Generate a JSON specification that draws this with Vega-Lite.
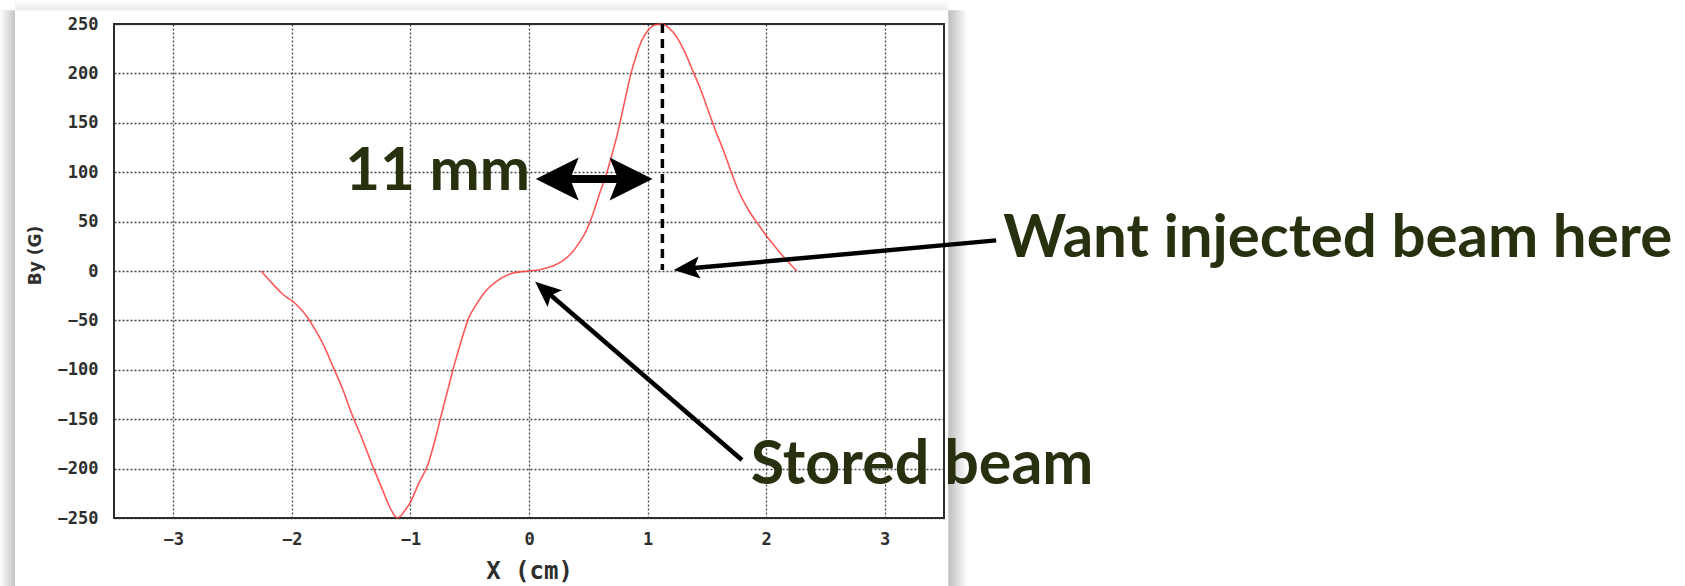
{
  "$schema": "https://vega.github.io/schema/vega-lite/v6.json",
  "width": 830,
  "height": 494,
  "autosize": "none",
  "padding": {"left": 114, "top": 24, "right": 741, "bottom": 68},
  "background": "white",
  "data": {"values": [{}]},
  "config": {
    "view": {"stroke": "#2b2b2b", "strokeWidth": 2},
    "axis": {
      "grid": true,
      "gridColor": "#333333",
      "gridDash": [2, 2],
      "gridWidth": 1.3,
      "gridOpacity": 0.9,
      "domain": false,
      "ticks": false,
      "tickSize": 0,
      "labelFont": "DejaVu Sans Mono",
      "labelFontWeight": "bold",
      "labelFontSize": 17,
      "labelColor": "#2e2e2e",
      "titleFontWeight": "bold",
      "titleColor": "#2e2e2e"
    }
  },
  "datasets": {
    "field": [
      {"x": -2.26, "by": 0}, {"x": -2.17, "by": -12}, {"x": -2.09, "by": -22},
      {"x": -2.04, "by": -27}, {"x": -2.0, "by": -30}, {"x": -1.93, "by": -38},
      {"x": -1.88, "by": -45}, {"x": -1.8, "by": -60}, {"x": -1.72, "by": -78},
      {"x": -1.66, "by": -95}, {"x": -1.57, "by": -120}, {"x": -1.49, "by": -146},
      {"x": -1.4, "by": -172}, {"x": -1.32, "by": -197}, {"x": -1.24, "by": -220},
      {"x": -1.17, "by": -240}, {"x": -1.11, "by": -250}, {"x": -1.05, "by": -243},
      {"x": -1.0, "by": -234}, {"x": -0.93, "by": -215}, {"x": -0.85, "by": -195},
      {"x": -0.79, "by": -170}, {"x": -0.74, "by": -146}, {"x": -0.68, "by": -118},
      {"x": -0.63, "by": -95}, {"x": -0.57, "by": -70}, {"x": -0.51, "by": -48},
      {"x": -0.44, "by": -33}, {"x": -0.37, "by": -21}, {"x": -0.28, "by": -11},
      {"x": -0.16, "by": -3}, {"x": -0.05, "by": -0.5}, {"x": 0.0, "by": 0},
      {"x": 0.1, "by": 1.5}, {"x": 0.2, "by": 5}, {"x": 0.28, "by": 10},
      {"x": 0.35, "by": 17}, {"x": 0.42, "by": 28}, {"x": 0.48, "by": 40},
      {"x": 0.54, "by": 58}, {"x": 0.6, "by": 80}, {"x": 0.65, "by": 97},
      {"x": 0.7, "by": 118}, {"x": 0.74, "by": 136}, {"x": 0.78, "by": 157},
      {"x": 0.82, "by": 179}, {"x": 0.86, "by": 200}, {"x": 0.91, "by": 220},
      {"x": 0.95, "by": 233}, {"x": 1.0, "by": 243}, {"x": 1.06, "by": 249},
      {"x": 1.12, "by": 250}, {"x": 1.18, "by": 246}, {"x": 1.25, "by": 236},
      {"x": 1.32, "by": 220}, {"x": 1.38, "by": 203}, {"x": 1.45, "by": 183},
      {"x": 1.51, "by": 163}, {"x": 1.57, "by": 143}, {"x": 1.64, "by": 122},
      {"x": 1.7, "by": 102}, {"x": 1.76, "by": 83}, {"x": 1.85, "by": 62},
      {"x": 1.94, "by": 46}, {"x": 2.0, "by": 36}, {"x": 2.06, "by": 27},
      {"x": 2.15, "by": 14}, {"x": 2.26, "by": 0}
    ]
  },
  "layer": [
    {
      "description": "Soft shadow on the left edge of the plot panel",
      "mark": {"type": "rect", "clip": false, "fill": {"gradient": "linear", "x1": 0, "y1": 0, "x2": 1, "y2": 0, "stops": [{"offset": 0, "color": "#ffffff"}, {"offset": 1, "color": "#c4c4c4"}]}},
      "encoding": {
        "x": {"datum": -4.462, "type": "quantitative"},
        "x2": {"datum": -4.335},
        "y": {"datum": 264, "type": "quantitative"},
        "y2": {"datum": -320}
      }
    },
    {
      "description": "Soft shadow on the right edge of the plot panel",
      "mark": {"type": "rect", "clip": false, "fill": {"gradient": "linear", "x1": 0, "y1": 0, "x2": 1, "y2": 0, "stops": [{"offset": 0, "color": "#bdbdbd"}, {"offset": 1, "color": "#ffffff"}]}},
      "encoding": {
        "x": {"datum": 3.536, "type": "quantitative"},
        "x2": {"datum": 3.70},
        "y": {"datum": 264, "type": "quantitative"},
        "y2": {"datum": -320}
      }
    },
    {
      "description": "Faint shadow along the top of the plot panel",
      "mark": {"type": "rect", "clip": false, "fill": {"gradient": "linear", "x1": 0, "y1": 0, "x2": 0, "y2": 1, "stops": [{"offset": 0, "color": "#ffffff"}, {"offset": 1, "color": "#ececec"}]}},
      "encoding": {
        "x": {"datum": -4.335, "type": "quantitative"},
        "x2": {"datum": 3.536},
        "y": {"datum": 274.3, "type": "quantitative"},
        "y2": {"datum": 264}
      }
    },
    {
      "data": {"name": "field"},
      "mark": {"type": "line", "color": "#ff3b3b", "strokeWidth": 1.6, "opacity": 0.85, "interpolate": "monotone"},
      "encoding": {
        "x": {
          "field": "x", "type": "quantitative",
          "scale": {"domain": [-3.5, 3.5], "nice": false, "zero": false},
          "axis": {
            "values": [-3, -2, -1, 0, 1, 2, 3],
            "format": "d",
            "title": "X  (cm)",
            "titleFont": "DejaVu Sans Mono",
            "titleFontSize": 24,
            "labelPadding": 13,
            "titlePadding": 12
          }
        },
        "y": {
          "field": "by", "type": "quantitative",
          "scale": {"domain": [-250, 250], "nice": false, "zero": false},
          "axis": {
            "values": [-250, -200, -150, -100, -50, 0, 50, 100, 150, 200, 250],
            "title": "By (G)",
            "titleFont": "DejaVu Sans",
            "titleFontSize": 17,
            "labelPadding": 16,
            "titlePadding": 13,
            "titleY": 231
          }
        }
      }
    },
    {
      "description": "Dashed marker at the field peak",
      "mark": {"type": "rule", "color": "black", "strokeWidth": 3.5, "strokeDash": [9, 6]},
      "encoding": {
        "x": {"datum": 1.125, "type": "quantitative"},
        "y": {"datum": 250, "type": "quantitative"},
        "y2": {"datum": 1}
      }
    },
    {
      "description": "Shaft of the 11 mm double arrow",
      "mark": {"type": "rule", "color": "black", "strokeWidth": 8},
      "encoding": {
        "x": {"datum": 0.25, "type": "quantitative"},
        "x2": {"datum": 0.85},
        "y": {"datum": 93, "type": "quantitative"}
      }
    },
    {
      "mark": {"type": "point", "shape": "M0,0L-2,-1L-1.6,0L-2,1Z", "filled": true, "size": 1849, "color": "black", "opacity": 1, "strokeWidth": 0, "angle": 0},
      "encoding": {"x": {"datum": 1.042, "type": "quantitative"}, "y": {"datum": 93, "type": "quantitative"}}
    },
    {
      "mark": {"type": "point", "shape": "M0,0L-2,-1L-1.6,0L-2,1Z", "filled": true, "size": 1849, "color": "black", "opacity": 1, "strokeWidth": 0, "angle": 180},
      "encoding": {"x": {"datum": 0.057, "type": "quantitative"}, "y": {"datum": 93, "type": "quantitative"}}
    },
    {
      "description": "Arrow to the injection point",
      "mark": {"type": "rule", "color": "black", "strokeWidth": 4.5, "clip": false},
      "encoding": {
        "x": {"datum": 3.94, "type": "quantitative"},
        "y": {"datum": 31, "type": "quantitative"},
        "x2": {"datum": 1.32},
        "y2": {"datum": 2.2}
      }
    },
    {
      "mark": {"type": "point", "shape": "M0,0L-2,-0.85L-1.6,0L-2,0.85Z", "filled": true, "size": 676, "color": "black", "opacity": 1, "strokeWidth": 0, "angle": 174.7},
      "encoding": {"x": {"datum": 1.22, "type": "quantitative"}, "y": {"datum": 1.0, "type": "quantitative"}}
    },
    {
      "description": "Arrow to the stored beam",
      "mark": {"type": "rule", "color": "black", "strokeWidth": 4.5, "clip": false},
      "encoding": {
        "x": {"datum": 1.796, "type": "quantitative"},
        "y": {"datum": -191.3, "type": "quantitative"},
        "x2": {"datum": 0.128},
        "y2": {"datum": -18.7}
      }
    },
    {
      "mark": {"type": "point", "shape": "M0,0L-2,-0.85L-1.6,0L-2,0.85Z", "filled": true, "size": 676, "color": "black", "opacity": 1, "strokeWidth": 0, "angle": 220.8},
      "encoding": {"x": {"datum": 0.052, "type": "quantitative"}, "y": {"datum": -10.8, "type": "quantitative"}}
    },
    {
      "mark": {"type": "text", "text": "11 mm", "font": "Lato", "fontWeight": "bold", "fontSize": 60, "color": "#28310f", "align": "left", "baseline": "alphabetic", "clip": false},
      "encoding": {"x": {"datum": -1.55, "type": "quantitative"}, "y": {"datum": 82, "type": "quantitative"}}
    },
    {
      "mark": {"type": "text", "text": "Want injected beam here", "font": "Lato", "fontWeight": "bold", "fontSize": 60, "color": "#28310f", "align": "left", "baseline": "alphabetic", "clip": false},
      "encoding": {"x": {"datum": 4.0, "type": "quantitative"}, "y": {"datum": 14, "type": "quantitative"}}
    },
    {
      "mark": {"type": "text", "text": "Stored beam", "font": "Lato", "fontWeight": "bold", "fontSize": 61, "color": "#28310f", "align": "left", "baseline": "alphabetic", "clip": false},
      "encoding": {"x": {"datum": 1.87, "type": "quantitative"}, "y": {"datum": -216, "type": "quantitative"}}
    }
  ]
}
